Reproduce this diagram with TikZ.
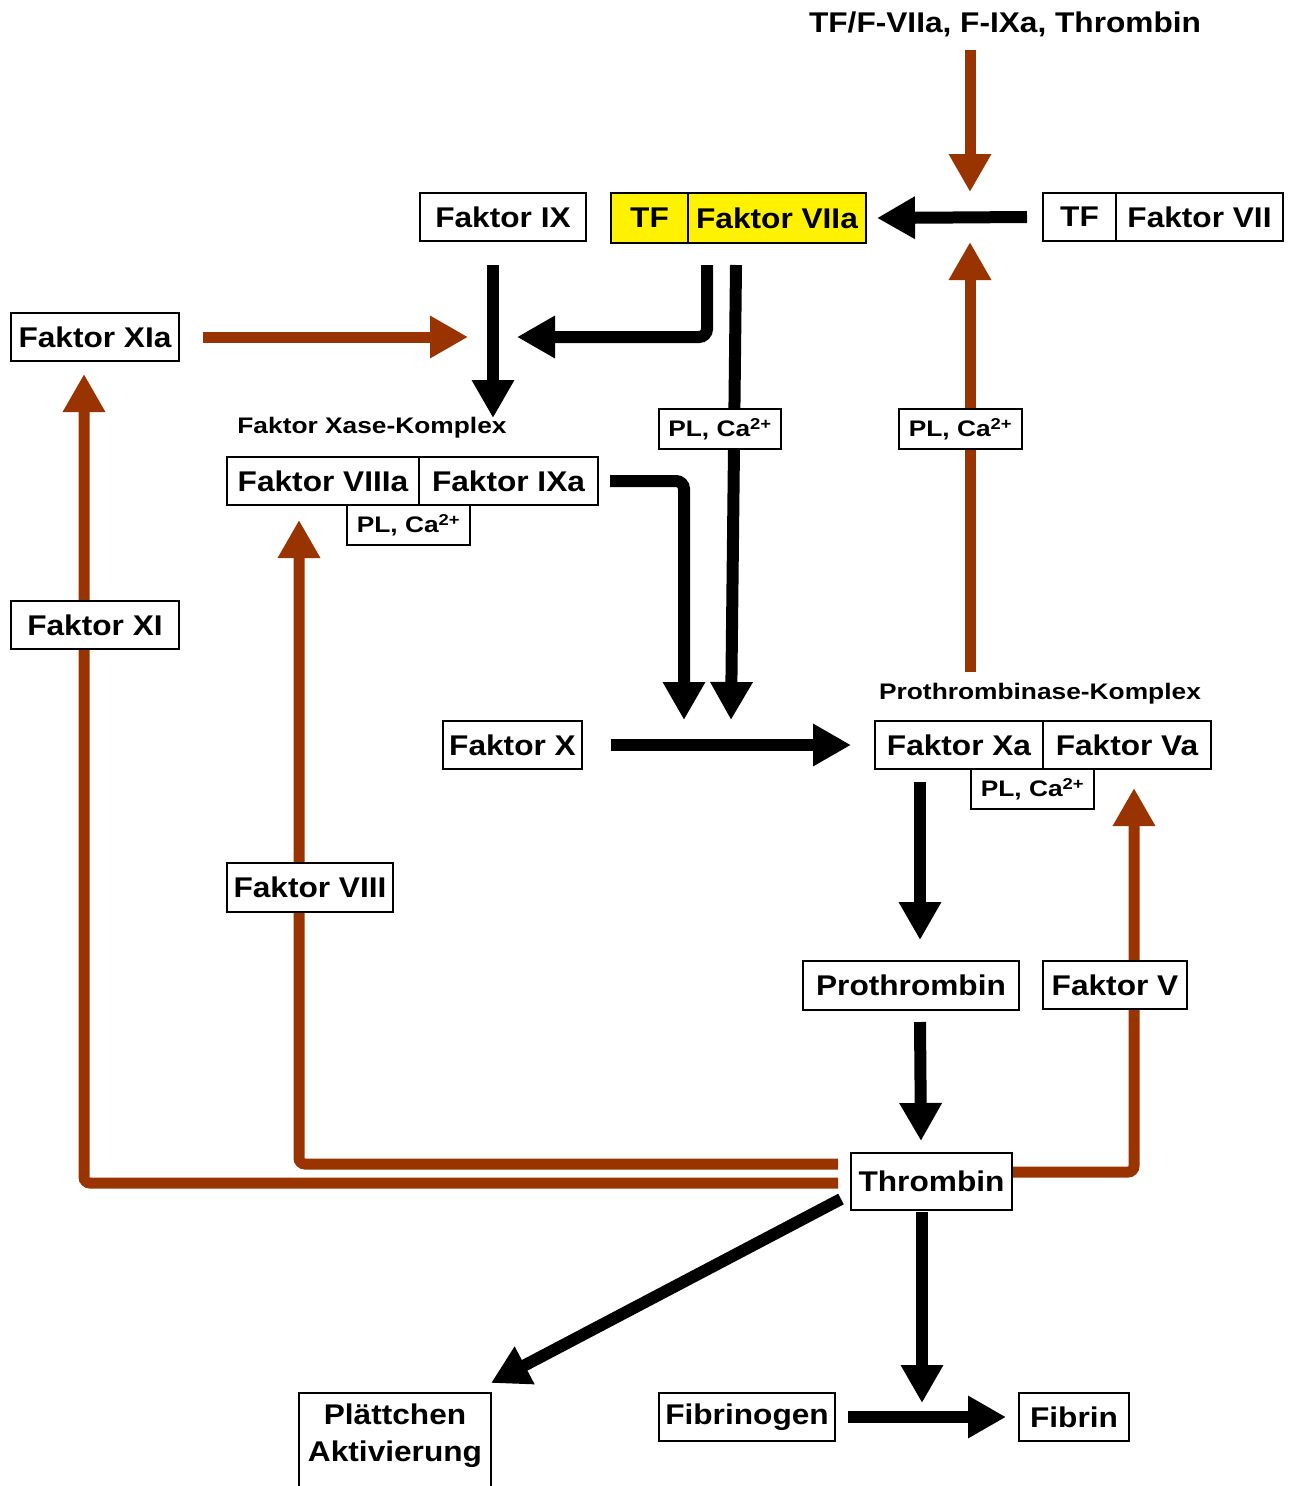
\documentclass[tikz,border=0pt]{standalone}
\usepackage{fontspec}
\setmainfont{Liberation Sans}
\newfontfamily\widefont{Liberation Sans}[FakeStretch=1.11]
\newfontfamily\widerfont{Liberation Sans}[FakeStretch=1.17]
\usetikzlibrary{arrows.meta}
\definecolor{thrbrown}{HTML}{993300}
\pgfdeclarelayer{arrowlayer}
\pgfsetlayers{arrowlayer,main}
\begin{document}
\begin{tikzpicture}[x=1pt,y=-1pt,
	box/.style={draw, line width=2pt, fill=white, inner sep=0pt, outer sep=0pt, font=\mybigfont},
	plbox/.style={box, minimum width=123pt, minimum height=40pt, font=\mysmallfont},
	complexlabel/.style={font=\mysmallfont},
	blkarrow/.style={draw=black, line width=12pt, -{Triangle[length=38pt,width=40pt]}},
	brnarrow/.style={draw=thrbrown, line width=11pt, -{Triangle[length=38pt,width=40pt]}}]
	\newcommand{\mybigfont}{\widefont\bfseries\fontsize{28.5}{37}\selectfont}
	\newcommand{\mysmallfont}{\widerfont\bfseries\fontsize{22.5}{26}\selectfont}
	\clip (0,0) rectangle (1290,1486);
	%Top row
	\node [font=\mybigfont] (title) at (1005,24) {TF/F-VIIa, F-IXa, Thrombin};
	\node [box, minimum width=166pt, minimum height=48pt] (fix) at (503,217) {Faktor IX};
	\node [box, fill=yellow, minimum width=77pt, minimum height=50pt] (tf1) at (649.5,218) {TF};
	\node [box, fill=yellow, minimum width=178pt, minimum height=50pt, anchor=west] (fviia) at (tf1.east) {Faktor VIIa};
	\node [box, minimum width=73pt, minimum height=48pt] (tf2) at (1079.5,217) {TF};
	\node [box, minimum width=167pt, minimum height=48pt, anchor=west] (fvii) at (tf2.east) {Faktor VII};
	%Faktor XIa and the Xase complex
	\node [box, minimum width=168pt, minimum height=48pt] (fxia) at (95,337) {Faktor XIa};
	\node [complexlabel] (xaselabel) at (372,428) {Faktor Xase-Komplex};
	\node [box, minimum width=192pt, minimum height=48pt] (fviiia) at (323,481) {Faktor VIIIa};
	\node [box, minimum width=179pt, minimum height=48pt, anchor=west] (fixa) at (fviiia.east) {Faktor IXa};
	\node [plbox, anchor=north] (plxase) at (408.5,505) {PL, Ca\textsuperscript{2+}};
	\node [plbox, minimum width=122pt] (plvii) at (720,429) {PL, Ca\textsuperscript{2+}};
	\node [plbox] (plthr) at (960.5,429) {PL, Ca\textsuperscript{2+}};
	\node [box, minimum width=168pt, minimum height=48pt] (fxi) at (95,625) {Faktor XI};
	%Faktor X and the prothrombinase complex
	\node [box, minimum width=139pt, minimum height=48pt] (fx) at (512.5,745) {Faktor X};
	\node [complexlabel] (prolabel) at (1040,694) {Prothrombinase-Komplex};
	\node [box, minimum width=168pt, minimum height=48pt] (fxa) at (959,745) {Faktor Xa};
	\node [box, minimum width=168pt, minimum height=48pt, anchor=west] (fva) at (fxa.east) {Faktor Va};
	\node [plbox, anchor=north] (plpro) at (1032.5,769) {PL, Ca\textsuperscript{2+}};
	\node [box, minimum width=166pt, minimum height=49pt] (fviii) at (310,887.5) {Faktor VIII};
	\node [box, minimum width=216pt, minimum height=49pt] (prothr) at (911,985.5) {Prothrombin};
	\node [box, minimum width=144pt, minimum height=48pt] (fv) at (1115,985) {Faktor V};
	%Thrombin and what it does
	\node [box, minimum width=161pt, minimum height=57pt] (thr) at (931.5,1181.5) {Thrombin};
	\node [box, minimum width=192pt, minimum height=120pt, anchor=north] (pltbox) at (395,1393) {};
	\node [font=\mybigfont, align=center] (plt) at (395,1436) {Plättchen\\Aktivierung};
	\node [box, minimum width=176pt, minimum height=48pt] (fbg) at (747,1417) {Fibrinogen};
	\node [box, minimum width=110pt, minimum height=48pt] (fbn) at (1074,1417) {Fibrin};
	\begin{pgfonlayer}{arrowlayer}
		%Black arrows
		\coordinate (xasetop) at (493,418);
		\coordinate (xaseright) at (517,337);
		\coordinate (fxaleft) at (684,720);
		\coordinate (fxaright) at (731,720);
		\coordinate (fibin) at (922,1403);
		\draw [blkarrow] ([xshift=-16pt]tf2.west) -- ([xshift=11pt]fviia.east);
		\draw [blkarrow] ([xshift=-10pt,yshift=-24pt]fix.south) -- (xasetop);
		\draw [blkarrow, rounded corners=8pt] ([xshift=-70pt,yshift=-22pt]fviia.south) |- (xaseright);
		\draw [blkarrow] ([xshift=-41pt,yshift=-22pt]fviia.south) -- (fxaright);
		\draw [blkarrow, rounded corners=8pt] ([xshift=12pt]fixa.east) -| (fxaleft);
		\draw [blkarrow] ([xshift=29pt]fx.east) -- ([xshift=-24pt]fxa.west);
		\draw [blkarrow] ([xshift=-39pt,yshift=-13pt]fxa.south) -- ([xshift=9pt,yshift=21pt]prothr.north);
		\draw [blkarrow] ([xshift=9pt,yshift=-12pt]prothr.south) -- ([xshift=-10.5pt,yshift=12pt]thr.north);
		\draw [blkarrow] ([xshift=-10pt,yshift=-17.5pt]thr.west) -- ([yshift=10pt]pltbox.north east);
		\draw [blkarrow] ([xshift=-9.5pt,yshift=-2pt]thr.south) -- (fibin);
		\draw [blkarrow] ([xshift=13pt]fbg.east) -- ([xshift=-13pt]fbn.west);
		%Brown arrows
		\coordinate (tfsrc) at (970,50);
		\coordinate (tfdown) at (970,192);
		\coordinate (prosrc) at (970,672);
		\coordinate (tfup) at (970,242);
		\coordinate (xaseleft) at (468,337);
		\coordinate (fxiain) at (84,374);
		\coordinate (fviiiain) at (299,520);
		\coordinate (fvain) at (1134,788);
		\draw [brnarrow] (tfsrc) -- (tfdown);
		\draw [brnarrow] (prosrc) -- (tfup);
		\draw [brnarrow] ([xshift=24pt]fxia.east) -- (xaseleft);
		\draw [brnarrow, rounded corners=6pt] ([xshift=-13pt,yshift=-1.5pt]thr.west) -| (fxiain);
		\draw [brnarrow, rounded corners=6pt] ([xshift=-13pt,yshift=17.5pt]thr.west) -| (fviiiain);
		\draw [brnarrow, rounded corners=6pt] ([xshift=1pt,yshift=9.5pt]thr.east) -| (fvain);
	\end{pgfonlayer}
\end{tikzpicture}
\end{document}
